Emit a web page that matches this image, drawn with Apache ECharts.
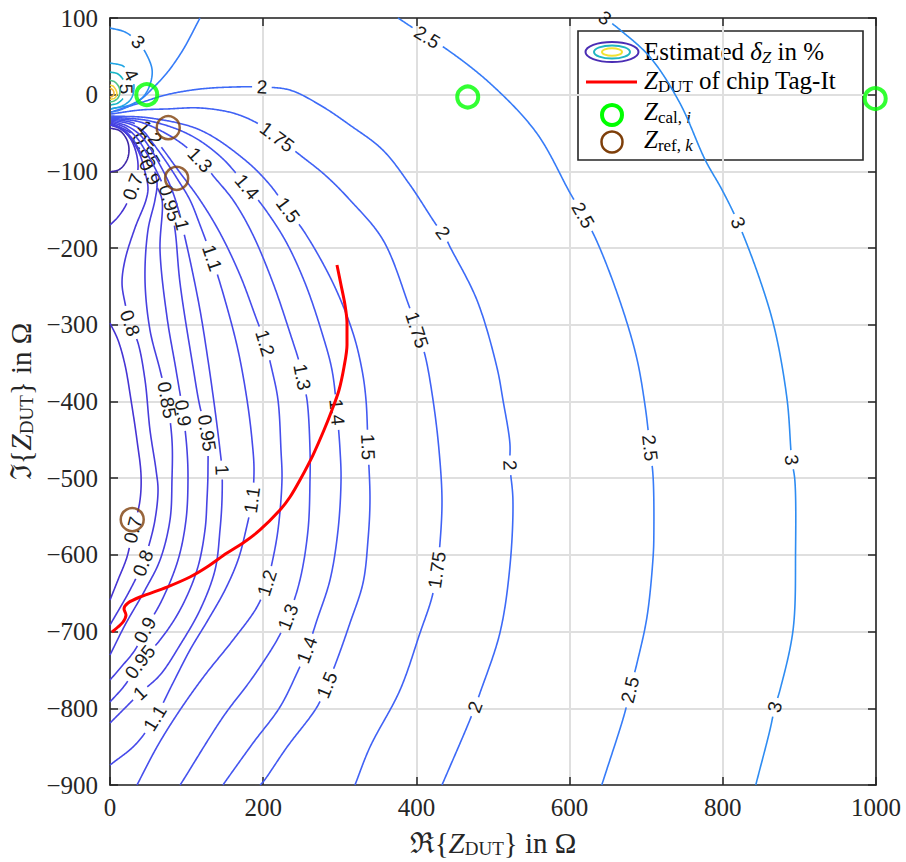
<!DOCTYPE html>
<html>
<head>
<meta charset="utf-8">
<script src="https://cdn.jsdelivr.net/npm/echarts@6.0.0/dist/echarts.min.js"></script>
<style>
html, body { margin: 0; padding: 0; background: #ffffff; }
#chart { width: 906px; height: 862px; }
</style>
</head>
<body>
<div id="chart"></div>
<script>
// ---- Axis ranges and ticks ----
const xRange = [0, 1000];
const yRange = [-900, 100];
const xStep = 200;
const yStep = 100;

// ---- Contour pieces of the estimated error delta_Z (in %), points as [Re, Im] in Ohm ----
const c0_6 = [[0,-43.4],[13.1,-47.3],[22.2,-59.1],[24.8,-72.1],[22.2,-85.1],[13.1,-96.9],[0,-100.8]];
const c0_7a = [[0,-39.5],[13.1,-43.4],[26.1,-56.5],[33.9,-74.7],[36.6,-95.6],[32.6,-113.8],[30,-120.3],[20.9,-143.8],[10.4,-159.5],[0,-169.9]];
const c0_7b = [[0,-297.7],[10.4,-319.8],[19.6,-352.4],[27.4,-398],[35.2,-450.2],[40.5,-495.8],[39.2,-528.4],[32.6,-558.4],[30,-567.5],[22.2,-602.7],[10.4,-632.7],[0,-658.8]];
const c0_8 = [[1.3,-39.5],[15.7,-46],[28.7,-59.1],[39.2,-78.6],[45.7,-100.8],[49.6,-121.6],[47,-137.3],[32.6,-173.8],[19.6,-215.5],[15.7,-245.5],[19.6,-271.6],[26.1,-297.7],[36.6,-323.7],[45.7,-372],[52.2,-437.2],[60.1,-489.3],[62.7,-515.4],[58.7,-554.5],[50.9,-587.1],[43.1,-610.6],[26.1,-645.8],[0,-691.4]];
const c0_85 = [[1.3,-38.2],[18.3,-44.7],[33.9,-55.2],[47,-72.1],[56.1,-93],[61.4,-115.1],[58.7,-137.3],[49.6,-176.4],[45.7,-241.6],[52.2,-306.8],[65.3,-358.9],[74.4,-398],[80.9,-450.2],[80.9,-502.4],[78.3,-554.5],[65.3,-606.7],[45.7,-645.8],[19.6,-691.4],[0,-730.5]];
const c0_9 = [[1.3,-36.9],[18.3,-46],[31.3,-60.4],[41.8,-79.9],[52.2,-100.8],[61.4,-120.3],[67.9,-137.3],[65.3,-202.5],[74.4,-289.8],[86.2,-358.9],[95.3,-415],[100.5,-463.2],[101.8,-502.4],[99.2,-554.5],[88.8,-606.7],[67.9,-658.8],[45.7,-698],[32.6,-724],[15.7,-744.9],[0,-763.1]];
const c0_95 = [[1.3,-35.6],[20.9,-43.4],[35.2,-56.5],[47,-74.7],[58.7,-95.6],[69.2,-117.7],[78.3,-141.2],[84.9,-176.4],[91.4,-245.5],[108.4,-355],[117.5,-407.2],[126.6,-441.1],[127.9,-489.3],[126.6,-528.4],[124,-567.5],[113.6,-619.7],[91.4,-671.8],[65.3,-711],[39.2,-739.6],[19.6,-769.6],[0,-791.8]];
const c1_0 = [[1.3,-34.3],[22.2,-40.8],[39.2,-52.5],[52.2,-69.5],[65.3,-91.7],[78.3,-117.7],[87.5,-143.8],[94,-169.9],[104.4,-215.5],[117.5,-280.7],[127.9,-345.9],[137.1,-411.1],[143.6,-463.2],[146.2,-489.3],[146.2,-528.4],[143.6,-567.5],[137.1,-619.7],[117.5,-671.8],[91.4,-717.5],[65.3,-756.6],[39.2,-780.1],[19.6,-799.6],[0,-819.2]];
const c1_1 = [[1.3,-33],[26.1,-38.2],[43.1,-47.3],[54.8,-61.7],[71.8,-85.1],[88.8,-111.2],[104.4,-137.3],[117.5,-169.9],[133.2,-212.9],[150.1,-267.7],[167.1,-332.9],[178.9,-398],[185.4,-450.2],[188,-489.3],[185.4,-528.4],[177.5,-567.5],[167.1,-606.7],[150.1,-645.8],[127.9,-684.9],[104.4,-724],[80.9,-769.6],[58.7,-812.7],[32.6,-847.9],[0,-874]];
const c1_2 = [[1.3,-31.7],[26.1,-35.6],[45.7,-43.4],[52.2,-49.9],[67.9,-69.5],[88.8,-98.2],[117.5,-137.3],[143.6,-180.3],[169.7,-235.1],[189.3,-287.2],[202.4,-323.7],[211.5,-358.9],[219.3,-398],[223.2,-463.2],[224.5,-502.4],[219.3,-567.5],[211.5,-610.6],[205,-636.6],[191.9,-667.9],[160.6,-711],[124,-756.6],[91.4,-802.2],[62.7,-847.9],[35.2,-900]];
const c1_3 = [[1.3,-30.4],[39.2,-35.6],[71.8,-49.9],[97.9,-66.9],[117.5,-85.1],[137.1,-108.6],[160.6,-137.3],[185.4,-180.3],[212.8,-245.5],[235,-310.7],[248,-352.4],[250.7,-368.1],[257.2,-398],[261.1,-463.2],[261.1,-502.4],[258.5,-567.5],[248,-632.7],[232.4,-681],[218,-711],[186.7,-759.2],[147.5,-811.4],[94,-896.2],[91.4,-900]];
const c1_4 = [[1.3,-29.1],[52.2,-34.3],[104.4,-52.5],[146.2,-82.5],[178.9,-120.3],[198.4,-143.8],[228.5,-189.4],[254.6,-245.5],[276.8,-310.7],[289.8,-358.9],[296.3,-413.7],[300.3,-463.2],[301.6,-502.4],[297.7,-567.5],[287.2,-632.7],[270.2,-684.9],[257.2,-724],[244.1,-754],[221.9,-798.3],[186.7,-845.3],[150.1,-896.2],[147.5,-900]];
const c1_5 = [[1.3,-27.8],[52.2,-30.4],[117.5,-46],[176.2,-85.1],[208.9,-117.7],[232.4,-150.3],[254.6,-180.3],[291.1,-245.5],[317.2,-310.7],[329,-358.9],[334.2,-398],[336.8,-459.3],[339.4,-528.4],[336.8,-580.6],[330.3,-636.6],[313.3,-688.8],[296.3,-737],[283.3,-769.6],[270.2,-798.3],[231.1,-850.5],[199.7,-896.2],[195.8,-900]];
const c1_75 = [[1.3,-25.2],[39.2,-20],[74.4,-18.6],[117.5,-17.3],[160.6,-23.9],[191.9,-36.9],[218,-55.2],[248,-78.6],[280.7,-104.7],[313.3,-137.3],[356.4,-189.4],[389,-271.6],[400.8,-306.8],[411.2,-339.4],[421.7,-398],[429.5,-463.2],[433.4,-528.4],[430.8,-584.5],[426.9,-619.7],[420.4,-654.9],[404.7,-701.8],[378.6,-776.2],[339.4,-850.5],[319.8,-900]];
const c2_0 = [[1.3,-22.6],[43,-9.5],[74,0],[117.5,7.4],[160.6,10],[198.4,10],[235,6],[274,-13.4],[313,-39.5],[356,-72],[391.7,-117.7],[428,-172.5],[434.7,-180],[444,-198.6],[479,-267.7],[505,-355],[513,-398],[522,-454],[522,-483],[526,-528],[522,-615.8],[509,-701.8],[483,-780],[476.5,-798.3],[466,-824.4],[433.4,-900]];
const c2_5a = [[117.5,100],[95,58],[74,28],[56,8.7],[39,-7],[13,-20],[1.3,-22.6]];
const c2_5b = [[376,100],[414,75],[437,61],[496,15],[557,-50],[600.5,-128],[617.5,-157],[633,-185.5],[662,-258.5],[686.7,-339.4],[698.4,-404.6],[705,-460.6],[709,-498.4],[710,-571.5],[709,-602.7],[701,-681],[688,-741],[679,-776],[672,-806],[642,-900]];
const c3_0a = [[0,87],[19.6,81.7],[36.6,68.7],[48,51.8],[55,32],[52,12.6],[43,-3],[26,-13.4],[6.5,-17.3],[1.3,-18.6]];
const c3_0b = [[646,100],[666,84.4],[705,49],[744,-11],[777,-85],[799,-124],[820,-167],[848.6,-241.6],[868,-306.8],[884,-398],[890,-476],[894,-502],[895,-593.6],[891.7,-698],[874.7,-776],[868,-798.3],[861.6,-828],[843,-900]];
const c4_0 = [[0,41.3],[17,37.4],[27.4,25.7],[31.3,10],[27.4,-5.6],[15.7,-14.7],[1.3,-18.6]];
const c5_0 = [[0,29.6],[10.4,27],[18.3,17.8],[20.9,7.4],[18.3,-3],[10.4,-10.8],[1.3,-13.4]];
const c7_5 = [[0,19],[6.5,16.5],[11.7,10],[13,3.5],[10.4,-4.3],[5.2,-8.2],[0,-9.5]];
const c10 = [[0,12.6],[3.9,11.3],[7.8,6],[9,1],[6.5,-4.3],[2.6,-5.6],[0,-6.2]];
const c15 = [[0,8.7],[3.9,6],[5.2,2.2],[3.9,-1.7],[0,-3]];

// Vertex indices that carry an inline level label
const lab0_7a = [6], lab0_7b = [8];
const lab0_8 = [11, 19];
const lab0_85 = [3, 11];
const lab0_9 = [4, 10, 16];
const lab0_95 = [6, 11, 18];
const lab1_0 = [7, 13, 20];
const lab1_1 = [8, 14, 21];
const lab1_2 = [3, 10, 17];
const lab1_3 = [4, 11, 17];
const lab1_4 = [4, 10, 16];
const lab1_5 = [5, 11, 17];
const lab1_75 = [6, 12, 18];
const lab2_0 = [5, 12, 18, 23];
const lab2_5b = [1, 6, 11, 17];
const lab3_0a = [2], lab3_0b = [0, 6, 10, 15];
const lab4_0 = [2], lab5_0 = [3];

// Measured device impedance of the Tag-It chip [Re, Im]
const zDut = [[296.3,-222],[301.6,-248.1],[306.8,-274.2],[309.4,-297.7],[309.4,-326.3],[305.5,-355],[299,-385],[289.8,-411.1],[279.4,-437.2],[265,-469.8],[248,-502.4],[235,-524.5],[221.9,-541.5],[195.8,-567.5],[173.6,-584.5],[152.7,-597.5],[126.6,-615.8],[104.4,-628.8],[74.4,-641.9],[39.2,-654.9],[23.5,-662.7],[18.3,-670.5],[20.9,-678.4],[17,-687.5],[10.4,-694],[2.6,-700.5]];
// Calibration standards and reference impedances
const zCal = [[48,0],[467,-3],[999,-5]];
const zRef = [[76,-43],[87,-109],[29,-554]];

// Line colour of each level (parula-like map)
const levelColor = {
  '0.6':'#3e26a8','0.7':'#4634d4','0.8':'#473cdc','0.85':'#4740e0','0.9':'#4742e2','0.95':'#4744e4',
  '1':'#4746e6','1.1':'#464aea','1.2':'#464eec','1.3':'#4552ee','1.4':'#4456f0','1.5':'#435af2',
  '1.75':'#4062f5','2':'#3d6af7','2.5':'#377cf8','3':'#2e8cf2','4':'#20a5e4','5':'#18b6c6',
  '7.5':'#4ec38a','10':'#f2d43a','15':'#f8b93a'
};

const contourPieces = [
  [0.6, c0_6, []], [0.7, c0_7a, lab0_7a], [0.7, c0_7b, lab0_7b], [0.8, c0_8, lab0_8],
  [0.85, c0_85, lab0_85], [0.9, c0_9, lab0_9], [0.95, c0_95, lab0_95], [1, c1_0, lab1_0],
  [1.1, c1_1, lab1_1], [1.2, c1_2, lab1_2], [1.3, c1_3, lab1_3], [1.4, c1_4, lab1_4],
  [1.5, c1_5, lab1_5], [1.75, c1_75, lab1_75], [2, c2_0, lab2_0], [2.5, c2_5a, []],
  [2.5, c2_5b, lab2_5b], [3, c3_0a, lab3_0a], [3, c3_0b, lab3_0b], [4, c4_0, lab4_0],
  [5, c5_0, lab5_0], [7.5, c7_5, []], [10, c10, []], [15, c15, []]
];

const SERIF = "'Liberation Serif', 'DejaVu Serif', serif";
const SANS = "'Liberation Sans', Arial, sans-serif";
const LABEL_SIZE = 19;

const measureCtx = document.createElement('canvas').getContext('2d');
measureCtx.font = LABEL_SIZE + "px 'Liberation Sans', Arial, sans-serif";
const textWidth = t => measureCtx.measureText(t).width;

// Centripetal Catmull-Rom pass through the projected vertices so the drawn curve is smooth;
// also returns, for each vertex, its position in the resampled list.
function smoothPixels(px) {
  const out = [];
  const at = [];
  const n = px.length;
  const lerp = (a, b, ta, tb, t) => {
    const d = tb - ta;
    if (d < 1e-6) return a.slice();
    return [a[0] + (b[0] - a[0]) * (t - ta) / d, a[1] + (b[1] - a[1]) * (t - ta) / d];
  };
  for (let i = 0; i < n - 1; i++) {
    const p1 = px[i], p2 = px[i + 1];
    const p0 = i > 0 ? px[i - 1] : [2 * p1[0] - p2[0], 2 * p1[1] - p2[1]];
    const p3 = i + 2 < n ? px[i + 2] : [2 * p2[0] - p1[0], 2 * p2[1] - p1[1]];
    const t0 = 0;
    const t1 = t0 + Math.sqrt(Math.hypot(p1[0] - p0[0], p1[1] - p0[1])) + 1e-4;
    const t2 = t1 + Math.sqrt(Math.hypot(p2[0] - p1[0], p2[1] - p1[1])) + 1e-4;
    const t3 = t2 + Math.sqrt(Math.hypot(p3[0] - p2[0], p3[1] - p2[1])) + 1e-4;
    const steps = Math.max(1, Math.ceil(Math.hypot(p2[0] - p1[0], p2[1] - p1[1])));
    at.push(out.length);
    for (let k = 0; k < steps; k++) {
      const t = t1 + (t2 - t1) * k / steps;
      const A1 = lerp(p0, p1, t0, t1, t), A2 = lerp(p1, p2, t1, t2, t), A3 = lerp(p2, p3, t2, t3, t);
      const B1 = lerp(A1, A2, t0, t2, t), B2 = lerp(A2, A3, t1, t3, t);
      out.push(lerp(B1, B2, t1, t2, t));
    }
  }
  at.push(out.length);
  out.push(px[n - 1]);
  return { pts: out, at: at };
}

// Draws one contour piece with its inline labels; the line is broken where a label sits.
function renderContour(params, api) {
  const piece = contourPieces[api.value(2)];
  const lvl = piece[0], pts = piece[1], labs = piece[2];
  const color = levelColor[String(lvl)];
  const px = pts.map(p => api.coord(p));
  const sm = smoothPixels(px);
  const dense = sm.pts;
  const labels = labs.map(i => {
    const j = sm.at[i];
    const a = dense[Math.max(0, j - 6)], b = dense[Math.min(dense.length - 1, j + 6)];
    let ang = Math.atan2(b[1] - a[1], b[0] - a[0]);
    if (ang > Math.PI / 2) ang -= Math.PI;
    if (ang < -Math.PI / 2) ang += Math.PI;
    const txt = String(lvl);
    return { c: dense[j], ang: ang, txt: txt, r: textWidth(txt) / 2 + 4 };
  });
  const children = [];
  let cur = [];
  const flush = () => {
    if (cur.length > 1) children.push({ type: 'polyline', shape: { points: cur }, style: { stroke: color, lineWidth: 1.6, fill: null } });
    cur = [];
  };
  dense.forEach(p => {
    const hidden = labels.some(l => Math.hypot(p[0] - l.c[0], p[1] - l.c[1]) < l.r);
    if (hidden) flush(); else cur.push(p);
  });
  flush();
  labels.forEach(l => {
    children.push({
      type: 'text', x: l.c[0], y: l.c[1], rotation: -l.ang,
      style: { text: l.txt, fill: '#1a1a1a', fontSize: LABEL_SIZE, fontFamily: SANS, align: 'center', verticalAlign: 'middle' }
    });
  });
  return { type: 'group', children: children };
}

const minusFmt = v => (v < 0 ? '\u2212' + Math.abs(v) : String(v));

const nameRich = {
  n: { fontSize: 29, fontFamily: SERIF, lineHeight: 30, color: '#262626' },
  it: { fontSize: 29, fontFamily: SERIF, fontStyle: 'italic', lineHeight: 30, color: '#262626' },
  sub: { fontSize: 19, fontFamily: SERIF, lineHeight: 13, verticalAlign: 'bottom', color: '#262626' }
};

const axisCommon = {
  type: 'value',
  axisLine: { show: true, onZero: false, lineStyle: { color: '#262626', width: 1.6 } },
  axisTick: { show: true, inside: true, length: 8, lineStyle: { color: '#262626', width: 1.5 } },
  splitLine: { show: false }
};

const legendRich = {
  n: { fontSize: 25, fontFamily: SERIF, lineHeight: 30, color: '#000' },
  it: { fontSize: 25, fontFamily: SERIF, fontStyle: 'italic', lineHeight: 30, color: '#000' },
  sub: { fontSize: 17, fontFamily: SERIF, lineHeight: 16, verticalAlign: 'bottom', color: '#000' },
  sit: { fontSize: 17, fontFamily: SERIF, fontStyle: 'italic', lineHeight: 16, verticalAlign: 'bottom', color: '#000' }
};

const chart = echarts.init(document.getElementById('chart'), null, { renderer: 'svg' });

const option = {
  animation: false,
  backgroundColor: '#ffffff',
  grid: { left: 110, right: 30, top: 18, bottom: 77, containLabel: false, outerBoundsMode: 'none' },
  xAxis: [
    Object.assign({}, axisCommon, {
      position: 'bottom', min: xRange[0], max: xRange[1], interval: xStep,
      axisLabel: { show: true, fontFamily: SERIF, fontSize: 25, color: '#262626', margin: 10, formatter: v => String(v) },
      splitLine: { show: true, lineStyle: { color: '#dfdfdf', width: 2 } },
      name: '{n|\u211C{}{it|Z}{sub|DUT}}{n| in \u03A9}',
      nameLocation: 'middle', nameGap: 43,
      nameTextStyle: { fontSize: 29, fontFamily: SERIF, color: '#262626', lineHeight: 30, rich: nameRich }
    }),
    Object.assign({}, axisCommon, {
      position: 'top', min: xRange[0], max: xRange[1], interval: xStep,
      axisLabel: { show: false }
    })
  ],
  yAxis: [
    Object.assign({}, axisCommon, {
      position: 'left', min: yRange[0], max: yRange[1], interval: yStep,
      axisLabel: { show: true, fontFamily: SERIF, fontSize: 25, color: '#262626', margin: 12, formatter: minusFmt },
      splitLine: { show: true, lineStyle: { color: '#dfdfdf', width: 2 } },
      name: '{n|\u2111{}{it|Z}{sub|DUT}}{n| in \u03A9}',
      nameLocation: 'middle', nameGap: 66, nameRotate: 90,
      nameTextStyle: { fontSize: 29, fontFamily: SERIF, color: '#262626', lineHeight: 30, rich: nameRich }
    }),
    Object.assign({}, axisCommon, {
      position: 'right', min: yRange[0], max: yRange[1], interval: yStep,
      axisLabel: { show: false }
    })
  ],
  series: [
    {
      type: 'custom', name: 'Estimated delta_Z', xAxisIndex: 0, yAxisIndex: 0, silent: true, clip: false, z: 2,
      renderItem: renderContour,
      encode: { x: 0, y: 1 },
      data: contourPieces.map((p, i) => [p[1][0][0], p[1][0][1], i])
    },
    {
      type: 'line', name: 'Z_DUT', data: zDut, showSymbol: false, symbol: 'none', silent: true, z: 3, smooth: 0.3,
      lineStyle: { color: '#ff0000', width: 3 }
    },
    {
      type: 'scatter', name: 'Z_cal', data: zCal, symbol: 'circle', symbolSize: 21, silent: true, z: 4,
      itemStyle: { color: 'rgba(0,0,0,0)', borderColor: '#00ff00', borderWidth: 4 }
    },
    {
      type: 'scatter', name: 'Z_ref', data: zRef, symbol: 'circle', symbolSize: 23, silent: true, z: 4,
      itemStyle: { color: 'rgba(0,0,0,0)', borderColor: '#7e3f0a', borderWidth: 2.5 }
    }
  ],
  graphic: [
    {
      type: 'group', z: 100, children: [
        { type: 'rect', shape: { x: 578, y: 31, width: 285, height: 129 }, style: { fill: '#ffffff', stroke: '#262626', lineWidth: 1.6 } },
        { type: 'ellipse', shape: { cx: 612, cy: 52, rx: 26.5, ry: 10 }, style: { fill: null, stroke: '#4a2db4', lineWidth: 2 } },
        { type: 'ellipse', shape: { cx: 612, cy: 52, rx: 18, ry: 6.5 }, style: { fill: null, stroke: '#1fb5c2', lineWidth: 2 } },
        { type: 'ellipse', shape: { cx: 612, cy: 52, rx: 10, ry: 3.8 }, style: { fill: null, stroke: '#f2e232', lineWidth: 2 } },
        { type: 'line', shape: { x1: 586, y1: 82, x2: 637, y2: 82 }, style: { stroke: '#ff0000', lineWidth: 3 } },
        { type: 'circle', shape: { cx: 612, cy: 115, r: 10 }, style: { fill: null, stroke: '#00ff00', lineWidth: 4 } },
        { type: 'circle', shape: { cx: 612, cy: 142, r: 10.5 }, style: { fill: null, stroke: '#7e3f0a', lineWidth: 2.5 } },
        { type: 'text', x: 644, y: 51, style: { text: '{n|Estimated }{it|\u03B4}{sit|Z}{n| in %}', rich: legendRich, align: 'left', verticalAlign: 'middle' } },
        { type: 'text', x: 644, y: 80, style: { text: '{it|Z}{sub|DUT}{n| of chip Tag-It}', rich: legendRich, align: 'left', verticalAlign: 'middle' } },
        { type: 'text', x: 644, y: 111, style: { text: '{it|Z}{sub|cal, }{sit|i}', rich: legendRich, align: 'left', verticalAlign: 'middle' } },
        { type: 'text', x: 644, y: 139, style: { text: '{it|Z}{sub|ref, }{sit|k}', rich: legendRich, align: 'left', verticalAlign: 'middle' } }
      ]
    }
  ]
};

chart.setOption(option);
</script>
</body>
</html>
